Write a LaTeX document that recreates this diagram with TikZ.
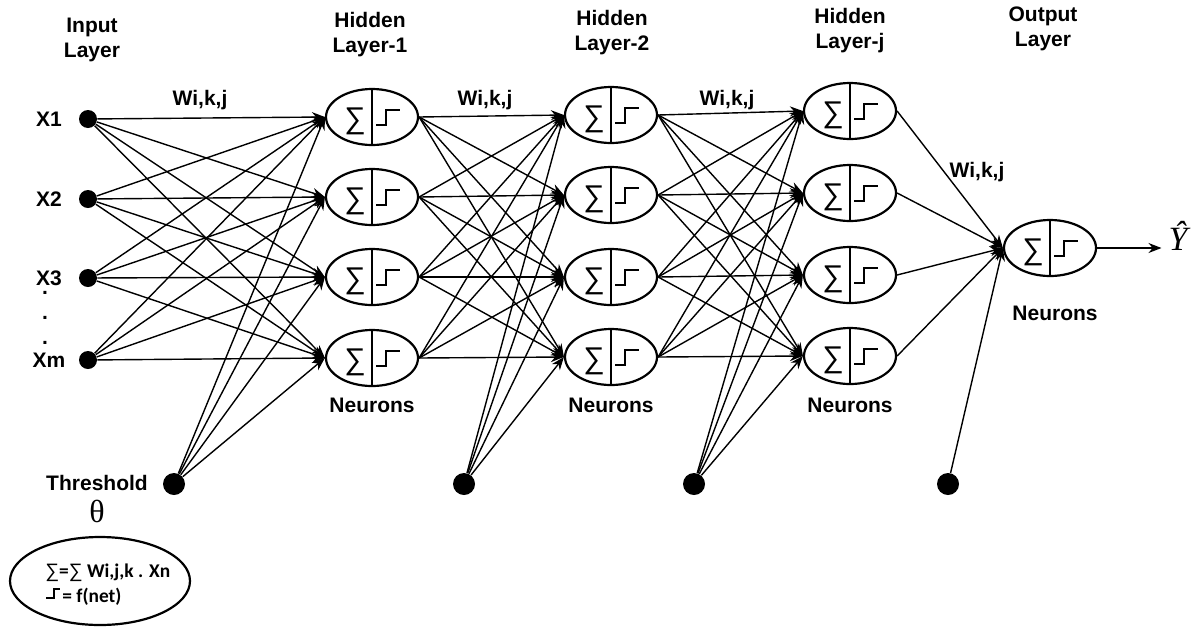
\documentclass[tikz,border=0pt]{standalone}
\usepackage{fontspec}
\setmainfont{Liberation Sans}
\newfontfamily\legendfont{Carlito}
\newfontfamily\serifgreek{Liberation Serif}
\usetikzlibrary{shapes.geometric, arrows.meta, positioning}
\newcommand{\sumsign}{{\rmfamily\mdseries ∑}}
\tikzstyle{neuron} = [ellipse, draw, line width=1.1pt, minimum width=46pt,
     minimum height=28pt, inner sep=0pt,
     path picture={
       \draw [line width=0.9pt] (path picture bounding box.north) -- (path picture bounding box.south);
       \node [font=\mdseries\fontsize{15}{15}\selectfont, inner sep=0pt] at ([xshift=-8.5pt, yshift=-2pt]path picture bounding box.center) {∑};
       \draw [line width=1.2pt] ([xshift=2pt, yshift=-4pt]path picture bounding box.center)
         -- ++(5pt,0) -- ++(0,7.5pt) -- ++(7pt,0);
     }]
\tikzstyle{input} = [circle, fill=black, minimum size=9pt, inner sep=0pt]
\tikzstyle{bias} = [circle, fill=black, minimum size=11pt, inner sep=0pt]
\tikzstyle{layertext} = [font=\bfseries\fontsize{10.5}{12.5}\selectfont, align=center]
\tikzstyle{xtext} = [font=\bfseries\fontsize{10.5}{12.5}\selectfont, inner sep=0.5pt]
\tikzstyle{legendtext} = [font=\legendfont\bfseries\fontsize{9.7}{10}\selectfont, inner sep=0pt]
\tikzstyle{arrow} = [line width=0.7pt, ->, >={Stealth[length=6.5pt, width=5pt]}]

\begin{document}
\begin{tikzpicture}[x=0.5pt, y=-0.5pt]
     \useasboundingbox (0,0) rectangle (1192,627);
     % Titles
     \node [layertext] (tin) at (92,40) {Input\\Layer};
     \node [layertext] (t1) at (370,35) {Hidden\\Layer-1};
     \node [layertext] (t2) at (612,33) {Hidden\\Layer-2};
     \node [layertext] (t3) at (850,31) {Hidden\\Layer-j};
     \node [layertext] (tout) at (1043,29) {Output\\Layer};

     % Inputs
     \foreach \y/\t [count=\i] in {119/X1,199/X2,278/X3,360/Xm} {
       \node [input] (x\i) at (88,\y) {};
       \node [xtext] (xl\i) at (49,\y) {\t};
     }
     \foreach \y [count=\i] in {292,317,342}
       \node [xtext, anchor=base, inner sep=0pt] (dot\i) at (45,\y+2) {.};

     % Neurons
     \foreach \y [count=\i] in {117,197,277,358}
       \node [neuron] (ha\i) at (372,\y) {};
     \foreach \y [count=\i] in {115,195,277,357}
       \node [neuron] (hb\i) at (611,\y) {};
     \foreach \y [count=\i] in {111,193,275,356}
       \node [neuron] (hc\i) at (850,\y) {};
     \node [neuron] (out) at (1050,248) {};
     \node [font=\serifgreek\itshape\fontsize{17}{17}\selectfont] (yhat) at (1178,236) {Ŷ};

     % Thresholds
     \node [bias] (th1) at (174,484) {};
     \node [bias] (th2) at (464,484) {};
     \node [bias] (th3) at (694,484) {};
     \node [bias] (th4) at (948,484) {};
     \node [layertext] (thl) at (97,483) {Threshold};
     \node [font=\serifgreek\fontsize{16}{16}\selectfont] (theta) at (97,511) {θ};

     % Weights and captions
     \node [layertext] (w1) at (200,100) {Wi,k,j};
     \node [layertext] (w2) at (485,100) {Wi,k,j};
     \node [layertext] (w3) at (727,100) {Wi,k,j};
     \node [layertext] (w4) at (977,172) {Wi,k,j};
     \node [layertext] (n1) at (372,405) {Neurons};
     \node [layertext] (n2) at (611,405) {Neurons};
     \node [layertext] (n3) at (850,405) {Neurons};
     \node [layertext] (n4) at (1055,313) {Neurons};

     % Arrows
     \foreach \i in {1,...,4} {
       \foreach \j in {1,...,4} {
         \draw [arrow] (x\i) -- (ha\j.west);
         \draw [arrow] (ha\i.east) -- (hb\j.west);
         \draw [arrow] (hb\i.east) -- (hc\j.west);
       }
       \draw [arrow] (th1) -- (ha\i.west);
       \draw [arrow] (th2) -- (hb\i.west);
       \draw [arrow] (th3) -- (hc\i.west);
       \draw [arrow] (hc\i.east) -- (out.west);
     }
     \draw [arrow] (th4) -- (out.west);
     \draw [arrow] (out.east) -- (out.east -| yhat.west);

     % Legend
     \node [ellipse, draw, line width=1.1pt, minimum width=90pt, minimum height=44pt] (legend) at (100,581) {};
     \node [legendtext, anchor=west] (eq1) at (45,573) {\sumsign=\sumsign{} Wi,j,k . Xn};
     \node [legendtext, anchor=west] (eq2) at (62,597) {= f(net)};
     \draw [line width=1.1pt] (46,598) -- (54,598) -- (54,589) -- (60,589);
\end{tikzpicture}
\end{document}
